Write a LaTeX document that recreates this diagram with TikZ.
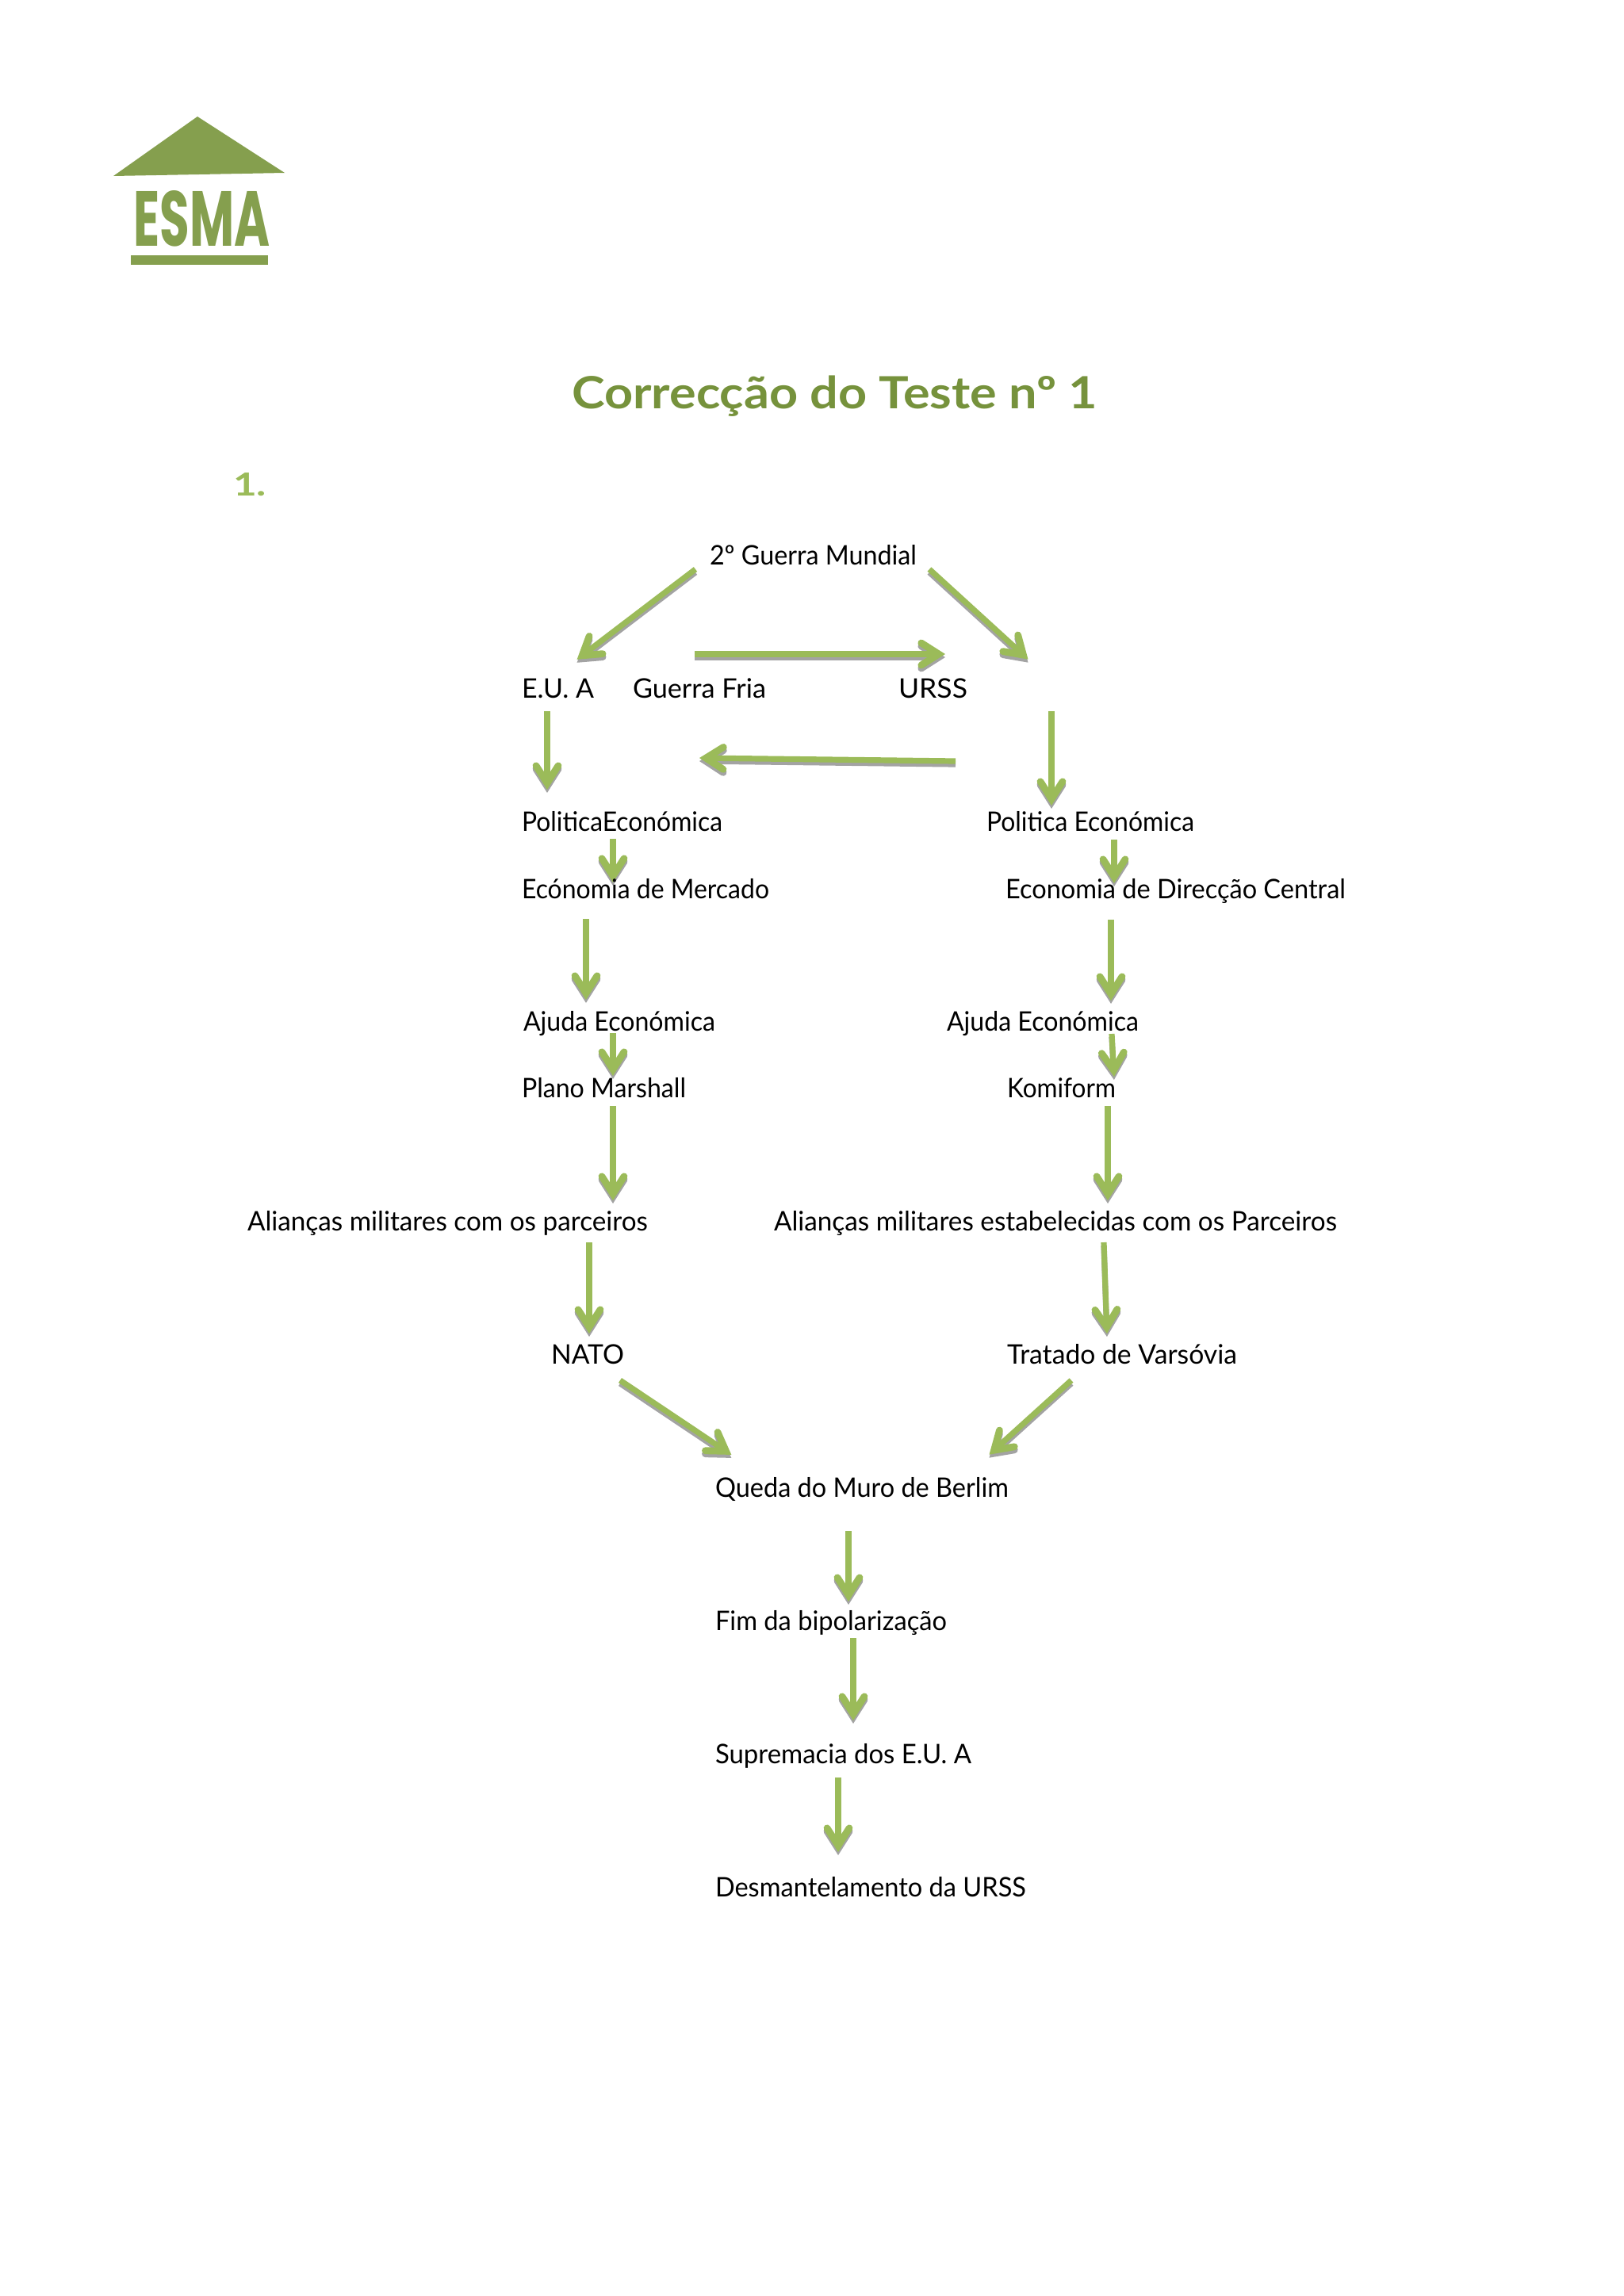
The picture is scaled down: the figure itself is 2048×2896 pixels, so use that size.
\documentclass[tikz,border=0pt]{standalone}
\usepackage{fontspec}
\usepackage{graphicx}
\usetikzlibrary{arrows.meta}
\setmainfont{Lato}
\newfontfamily\logofont{Poppins}
\definecolor{arrowgreen}{HTML}{9BBB59}
\definecolor{titlegreen}{HTML}{76923C}
\definecolor{logogreen}{HTML}{859F4E}
\definecolor{shadowgray}{HTML}{A3A3A3}
\pgfdeclarelayer{arrowlayer}
\pgfsetlayers{arrowlayer,main}
\tikzset{
  lab/.style={anchor=base west,inner sep=0pt,outer sep=0pt,text=black,font=\fontsize{17}{20}\selectfont},
  ttl/.style={anchor=base west,inner sep=0pt,outer sep=0pt,text=titlegreen,font=\fontsize{28}{32}\selectfont\bfseries},
  num/.style={anchor=base west,inner sep=0pt,outer sep=0pt,text=arrowgreen,font=\fontsize{20}{24}\selectfont\bfseries},
  arrbase/.style={line width=3.6pt,line cap=butt,shorten >=1pt,
    -{Straight Barb[length=11pt,width=14pt,line width=4.4pt,line cap=round,line join=miter]}},
  arr/.style={arrbase,draw=arrowgreen},
  arrshadow/.style={arrbase,draw=shadowgray},
}
% node with text fitted to a width in reference pixels
\newcommand\tl[6][lab]{\node[#1] (#2) at (#3,#4) {\resizebox{\dimexpr #5pt/2\relax}{\height}{#6}};}
\newcommand\conn[6]{%
  \draw[arrshadow] ([shift={(#2,#3+4)}]#1.base west) -- ([shift={(#5,#6+4)}]#4.base west);
  \draw[arr] ([shift={(#2,#3)}]#1.base west) -- ([shift={(#5,#6)}]#4.base west);}
\begin{document}
\begin{tikzpicture}[x=0.5pt,y=-0.5pt]
\useasboundingbox (0,0) rectangle (2048,2896);
% logo
\fill[logogreen] (249,147) -- (359,218) -- (143,222) -- cycle;
\node[anchor=base west,inner sep=0pt,text=logogreen] (logo) at (168,310) {\resizebox{86pt}{35pt}{\logofont\bfseries ESMA}};
\fill[logogreen] (165,322) rectangle (338,334);
% titles
\tl[ttl]{title}{721}{515}{663}{Correcção do Teste nº 1}
\tl[num]{one}{294}{625}{42}{1.}
% labels
\tl{gm}{895}{712}{261}{2º Guerra Mundial}
\tl{eua}{658}{880}{91}{E.U. A}
\tl{gf}{798}{880}{168}{Guerra Fria}
\tl{urss}{1133}{880}{87}{URSS}
\tl{polL}{658}{1048}{253}{PoliticaEconómica}
\tl{polR}{1244}{1048}{262}{Politica Económica}
\tl{ecoL}{658}{1133}{312}{Ecónomia de Mercado}
\tl{ecoR}{1268}{1133}{429}{Economia de Direcção Central}
\tl{ajL}{660}{1300}{242}{Ajuda Económica}
\tl{ajR}{1194}{1300}{242}{Ajuda Económica}
\tl{plano}{658}{1384}{207}{Plano Marshall}
\tl{kom}{1270}{1384}{137}{Komiform}
\tl{alL}{312}{1552}{505}{Alianças militares com os parceiros}
\tl{alR}{976}{1552}{710}{Alianças militares estabelecidas com os Parceiros}
\tl{nato}{695}{1720}{92}{NATO}
\tl{trat}{1270}{1720}{290}{Tratado de Varsóvia}
\tl{queda}{902}{1888}{370}{Queda do Muro de Berlim}
\tl{fim}{902}{2056}{292}{Fim da bipolarização}
\tl{sup}{902}{2224}{323}{Supremacia dos E.U. A}
\tl{des}{902}{2392}{392}{Desmantelamento da URSS}
% connectors, under the labels
\begin{pgfonlayer}{arrowlayer}
\conn{gm}{-18}{6}{eua}{68}{-47}
\conn{gm}{277}{6}{urss}{165}{-47}
\conn{gf}{78}{-55}{urss}{61}{-55}
\conn{urss}{72}{80}{gf}{82}{76}
\conn{eua}{32}{17}{polL}{32}{-50}
\conn{urss}{193}{17}{polR}{82}{-30}
\conn{polL}{115}{10}{ecoL}{115}{-18}
\conn{polR}{161}{11}{ecoR}{137}{-17}
\conn{ecoL}{81}{26}{ajL}{79}{-37}
\conn{ecoR}{133}{27}{ajR}{207}{-36}
\conn{ajL}{113}{3}{plano}{115}{-25}
\conn{ajR}{208}{4}{kom}{135}{-24}
\conn{plano}{115}{11}{alL}{461}{-36}
\conn{kom}{127}{11}{alR}{421}{-36}
\conn{alL}{431}{15}{nato}{48}{-36}
\conn{alR}{416}{15}{trat}{126}{-36}
\conn{nato}{87}{21}{queda}{22}{-52}
\conn{trat}{81}{21}{queda}{344}{-52}
\conn{queda}{168}{43}{fim}{168}{-34}
\conn{fim}{174}{10}{sup}{174}{-52}
\conn{sup}{155}{18}{des}{155}{-54}
\end{pgfonlayer}
\end{tikzpicture}
\end{document}
